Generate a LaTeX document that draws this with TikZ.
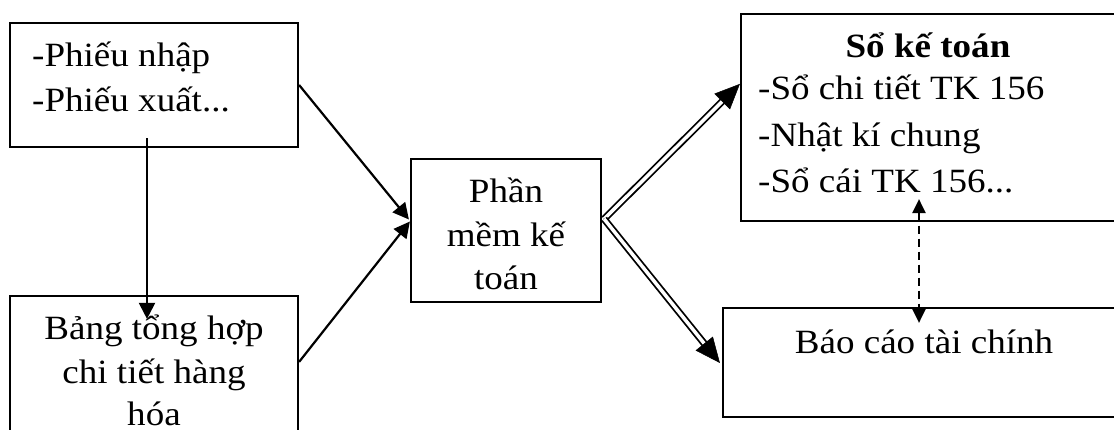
\documentclass[tikz,border=0pt]{standalone}
\usepackage{fontspec}
\setmainfont{Liberation Serif}[FakeStretch=1.09]
\usetikzlibrary{arrows.meta,calc}
\begin{document}
\begin{tikzpicture}[x=1pt,y=-1pt,
  box/.style={draw, line width=2.2pt, inner sep=0pt, rectangle},
  txt/.style={inner sep=0pt, font=\fontsize{34pt}{40pt}\selectfont},
  arr/.style={line width=2.2pt, -{Triangle[length=16pt,width=16pt]}},
  dbl/.style={double, double distance=3.5pt, line width=1.8pt},
  dtip/.style={line width=0.5pt, -{Triangle[length=25pt,width=22pt]}},
  dsh/.style={line width=2.2pt, dash pattern=on 8pt off 5pt,
    {Triangle[length=14pt,width=13pt]}-{Triangle[length=14pt,width=13pt]}}]
\clip (0,0) rectangle (1114,430);
\fill[white] (0,0) rectangle (1114,430);
% boxes
\node[box, minimum width=288pt, minimum height=124pt] (b1) at (154,85) {};
\node[box, minimum width=288pt, minimum height=160pt] (b2) at (154,376) {};
\node[box, minimum width=190pt, minimum height=143pt] (c) at (506,230.5) {};
\node[box, minimum width=375pt, minimum height=207pt] (s) at (928.5,117.5) {};
\node[box, minimum width=402pt, minimum height=109pt] (r) at (924,362.5) {};
% texts
\node[txt, anchor=base west] (t1a) at (32,67) {-Phiếu nhập};
\node[txt, anchor=base west] (t1b) at (32,112) {-Phiếu xuất...};
\node[txt, anchor=base] (t2a) at (154,340) {Bảng tổng hợp};
\node[txt, anchor=base] (t2b) at (154,383) {chi tiết hàng};
\node[txt, anchor=base] (t2c) at (154,425) {hóa};
\node[txt, anchor=base] (tca) at (506,203) {Phần};
\node[txt, anchor=base] (tcb) at (506,247) {mềm kế};
\node[txt, anchor=base] (tcc) at (506,290) {toán};
\node[txt, anchor=base, font=\fontsize{34pt}{40pt}\selectfont\bfseries] (tsa) at (928,58) {Sổ kế toán};
\node[txt, anchor=base west] (tsb) at (758,100) {-Sổ chi tiết TK 156};
\node[txt, anchor=base west] (tsc) at (758,146.5) {-Nhật kí chung};
\node[txt, anchor=base west] (tsd) at (758,193) {-Sổ cái TK 156...};
\node[txt, anchor=base] (tra) at (924,353) {Báo cáo tài chính};
% connectors
\draw[arr] (b1.east) -- ($(c.west)+(-1,-11)$);
\draw[arr] ($(b2.north east)+(0,67)$) -- ($(c.west)+(0,-9)$);
\draw[arr] ($(b1.south)+(-7,-10)$) -- ($(b2.north)+(-7,24)$);
\coordinate (cs) at ($(c.east)+(2,-11.5)$);
\coordinate (sT) at ($(s.north west)+(0,71)$);
\coordinate (rT) at ($(r.west)+(-2,0.5)$);
\draw[dbl, shorten >=18pt] (cs) -- (sT);
\draw[dtip] ($(sT)!25pt!(cs)$) -- (sT);
\draw[dbl, shorten >=18pt] (cs) -- (rT);
\draw[dtip] ($(rT)!25pt!(cs)$) -- (rT);
\draw[dsh] ($(s.south)+(-9.5,-23)$) -- ($(r.north)+(-5,16)$);
\end{tikzpicture}
\end{document}
